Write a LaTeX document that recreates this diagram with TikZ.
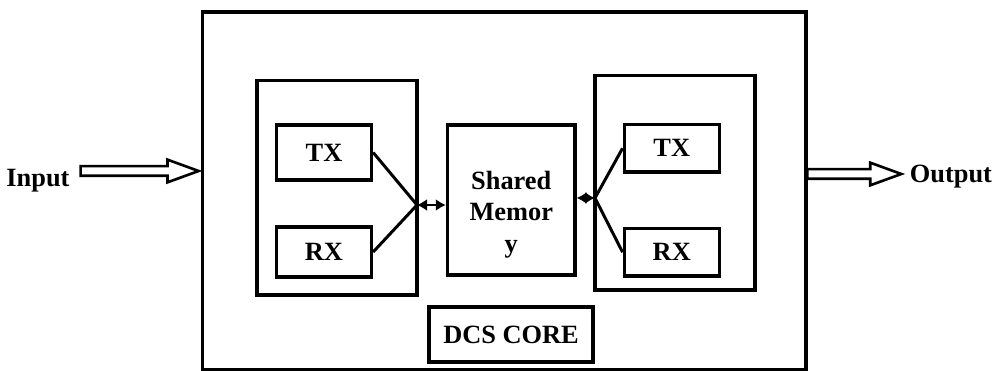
\documentclass[tikz,border=0pt]{standalone}
\usepackage{fontspec}
\setmainfont{Liberation Serif}
\usetikzlibrary{arrows.meta,shapes.arrows}

\tikzset{
	box/.style={draw,line width=1.9pt,inner sep=0pt},
	unit/.style={box,minimum width=1.9cm,minimum height=1.05cm},
	hollow/.style={draw,single arrow,line width=1.5pt,inner sep=0pt,inner ysep=0.07cm,
		single arrow head extend=0.13cm,single arrow tip angle=40},
	wire/.style={line width=1.7pt},
	link/.style={line width=1.6pt,{Latex[length=0.2cm,width=0.24cm]}-{Latex[length=0.2cm,width=0.24cm]}}
}

\begin{document}
\begin{tikzpicture}[every node/.style={font=\fontsize{15}{18}\selectfont\bfseries}]
		\useasboundingbox (0,0) rectangle (19.94,7.42);
		% outer core
		\node[box,minimum width=12.07cm,minimum height=7.16cm] (core) at (10.085,3.6){};
		\node[box,minimum width=3.28cm,minimum height=1.1cm] (dcs) at (10.22,0.73){DCS CORE};
		% left and right groups
		\node[box,minimum width=3.2cm,minimum height=4.29cm] (lgrp) at (6.74,3.665){};
		\node[box,minimum width=3.2cm,minimum height=4.29cm] (rgrp) at (13.5,3.765){};
		\node[unit,minimum height=1.1cm] (tx1) at (6.48,4.37){TX};
		\node[unit,minimum height=1.0cm] (rx1) at (6.48,2.38){RX};
		\node[unit,minimum height=0.95cm] (tx2) at (13.435,4.455){TX};
		\node[unit,minimum height=0.95cm] (rx2) at (13.435,2.375){RX};
		% shared memory
		\node[box,minimum width=2.55cm,minimum height=3cm,align=center] (mem) at (10.225,3.42){\rule{0pt}{0.95cm}Shared\\Memor\\y};
		% junctions
		\coordinate (jl) at (8.34,3.32);
		\coordinate (jr) at (11.9,3.46);
		\draw[wire] (tx1.east)--(jl)--(rx1.east);
		\draw[wire] (tx2.west)--(jr)--(rx2.west);
		\draw[link] (jl)--(jl-|mem.west);
		\draw[link] (jr-|mem.east)--(jr);
		% input / output
		\node (in) at (0.76,3.8){Input};
		\node (out) at (19.02,3.88){Output};
		\node[hollow,minimum height=2.36cm,anchor=tip] (inarr) at (4.05,4.0){};
		\node[hollow,minimum height=1.88cm,anchor=tail] (outarr) at (16.12,3.94){};
		\end{tikzpicture}
\end{document}
